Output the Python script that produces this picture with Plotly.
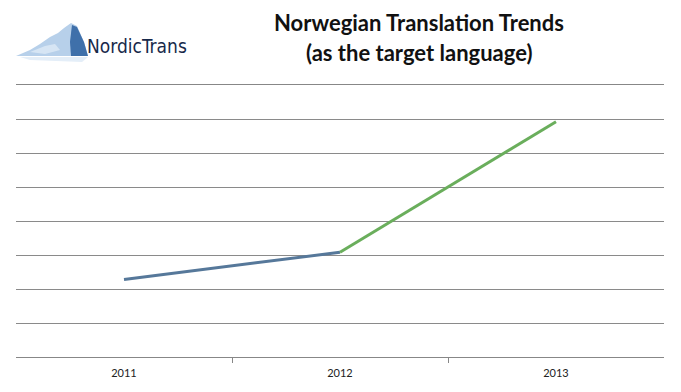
import plotly.graph_objects as go

# ---- data ----
years = [2011, 2012, 2013]
year_labels = ["2011", "2012", "2013"]
values = [2.28, 3.08, 6.92]

title_line1 = "Norwegian Translation Trends"
title_line2 = "(as the target language)"
logo_text = "NordicTrans"

W, H = 681, 392
L, R, T, B = 16, 17, 85, 35
PW, PH = W - L - R, H - T - B


def px(x, y):
    return (x - L) / PW, (H - B - y) / PH


def path(points):
    pts = [px(x, y) for x, y in points]
    return "M " + " L ".join(f"{a:.4f},{b:.4f}" for a, b in pts) + " Z"


fig = go.Figure()
fig.add_trace(go.Scatter(x=years[:2], y=values[:2], mode="lines",
                         line=dict(color="#56789a", width=3), hoverinfo="skip"))
fig.add_trace(go.Scatter(x=years[1:], y=values[1:], mode="lines",
                         line=dict(color="#6aae5c", width=3), hoverinfo="skip"))

shapes = [
    dict(type="path", xref="paper", yref="paper", layer="above",
         path=path([(20, 57), (88, 57), (82, 62), (30, 60)]),
         fillcolor="#e4eef8", line=dict(width=0)),
    dict(type="path", xref="paper", yref="paper", layer="above",
         path=path([(16, 56), (30, 50), (40, 44), (50, 37), (58, 33), (64, 28),
                    (71, 23), (77, 26), (84, 42), (88, 56)]),
         fillcolor="#b7d0ea", line=dict(width=0)),
    dict(type="path", xref="paper", yref="paper", layer="above",
         path=path([(72, 25), (77, 27), (84, 42), (88, 56), (71, 56), (70, 42)]),
         fillcolor="#3f70aa", line=dict(width=0)),
    dict(type="path", xref="paper", yref="paper", layer="above",
         path=path([(30, 52), (45, 46), (55, 44), (60, 50), (45, 54)]),
         fillcolor="#d6e5f4", line=dict(width=0)),
]

ax1, ay1 = px(419, 23)
ax2, ay2 = px(419, 53)
lx, ly = px(137, 46)
annotations = [
    dict(text=f"<b>{title_line1}</b>", x=ax1, y=ay1, xref="paper", yref="paper",
         showarrow=False, xanchor="center", yanchor="middle",
         font=dict(family="Lato, Arial", size=22, color="#111111")),
    dict(text=f"<b>{title_line2}</b>", x=ax2, y=ay2, xref="paper", yref="paper",
         showarrow=False, xanchor="center", yanchor="middle",
         font=dict(family="Lato, Arial", size=22, color="#111111")),
    dict(text=logo_text, x=lx, y=ly, xref="paper", yref="paper",
         showarrow=False, xanchor="center", yanchor="middle",
         font=dict(family="DejaVu Sans Condensed, Liberation Sans Narrow, DejaVu Sans",
                   size=19, color="#17294a")),
]

fig.update_layout(
    width=W, height=H,
    margin=dict(l=L, r=R, t=T, b=B, pad=0),
    paper_bgcolor="white", plot_bgcolor="white",
    showlegend=False,
    shapes=shapes,
    annotations=annotations,
    xaxis=dict(
        range=[2010.5, 2013.5], tickvals=years, ticktext=year_labels,
        ticks="", showgrid=False, zeroline=False,
        showline=True, linecolor="#878787", linewidth=1, mirror=True,
        tickfont=dict(family="Lato, Arial", size=11, color="#222222"),
        ticklabelstandoff=6,
        minor=dict(tickvals=[2011.5, 2012.5], ticks="outside", ticklen=5,
                   tickcolor="#878787", showgrid=False),
        fixedrange=True,
    ),
    yaxis=dict(
        range=[0, 8], dtick=1, showticklabels=False, ticks="",
        showgrid=True, gridcolor="#8a8a8a", gridwidth=1,
        zeroline=False, showline=False, fixedrange=True,
    ),
)

fig.write_html("out.html", config={"displayModeBar": False},
               post_script="document.body.style.margin='0';document.body.style.overflow='hidden';")
